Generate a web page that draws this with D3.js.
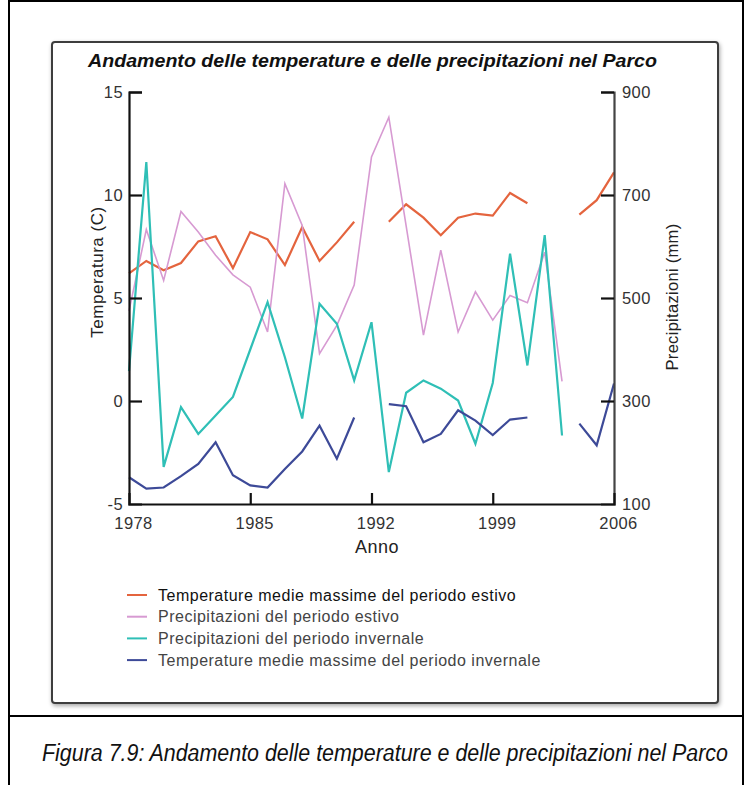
<!DOCTYPE html>
<html>
<head>
<meta charset="utf-8">
<script src="https://cdn.jsdelivr.net/npm/d3@7"></script>
<style>
  html, body { margin: 0; padding: 0; background: #fff; }
  svg { display: block; }
  text { font-family: "Liberation Sans", Arial, sans-serif; }
</style>
</head>
<body>
<svg id="chart" width="744" height="785"></svg>
<script>
const years = [1978, 1979, 1980, 1981, 1982, 1983, 1984, 1985, 1986, 1987, 1988, 1989, 1990, 1991, 1992,
  1993, 1994, 1995, 1996, 1997, 1998, 1999, 2000, 2001, 2002, 2003, 2004, 2005, 2006]

// temperature medie massime (C), asse sinistro
const tempEstivo = [6.2, 6.8, 6.35, 6.7, 7.75, 8.0, 6.45, 8.2, 7.85, 6.6, 8.45, 6.8, 7.7, 8.7, null,
  8.7, 9.55, 8.9, 8.05, 8.9, 9.1, 9.0, 10.1, 9.6, null, null, 9.05, 9.75, 11.1]
const tempInvernale = [-3.7, -4.25, -4.2, -3.65, -3.05, -2.0, -3.6, -4.1, -4.2, -3.3, -2.45, -1.2, -2.8, -0.8, null,
  -0.15, -0.25, -2.0, -1.6, -0.45, -0.95, -1.65, -0.9, -0.8, null, null, -1.1, -2.15, 0.85]

// precipitazioni (mm), asse destro
const precEstivo = [475, 633, 534, 668, 628, 583, 545, 521, 434, 722, 641, 392, 447, 525, 774,
  851, 640, 428, 593, 434, 512, 457, 505, 491, 589, 338, null, null, null]
const precInvernale = [358, 764, 172, 288, 236, 272, 308, 400, 492, 385, 266, 489, 450, 340, 453,
  162, 316, 340, 324, 301, 217, 335, 586, 369, 622, 233, null, null, null]

const xTicks = [1978, 1985, 1992, 1999, 2006]
const tempTicks = [15, 10, 5, 0, -5]
const precTicks = [900, 700, 500, 300, 100]

const series = [
  { name: 'Temperature medie massime del periodo estivo', values: tempEstivo, axis: 'temp', color: '#e4643e', width: 2.2 },
  { name: 'Precipitazioni del periodo estivo', values: precEstivo, axis: 'prec', color: '#d79ad2', width: 1.6 },
  { name: 'Precipitazioni del periodo invernale', values: precInvernale, axis: 'prec', color: '#2fbfb6', width: 2.2 },
  { name: 'Temperature medie massime del periodo invernale', values: tempInvernale, axis: 'temp', color: '#3d4a98', width: 2.2 },
]

const title = 'Andamento delle temperature e delle precipitazioni nel Parco'
const caption = 'Figura 7.9: Andamento delle temperature e delle precipitazioni nel Parco'

const svg = d3.select('#chart')

// cornice esterna e separatore didascalia
svg.append('rect')
  .attr('x', 9).attr('y', 1).attr('width', 734).attr('height', 800)
  .attr('fill', 'none').attr('stroke', '#000').attr('stroke-width', 2)
svg.append('line')
  .attr('x1', 9).attr('x2', 744).attr('y1', 716).attr('y2', 716)
  .attr('stroke', '#000').attr('stroke-width', 2)

// riquadro grigio della figura
const defs = svg.append('defs')
defs.append('filter').attr('id', 'shadow')
  .attr('x', '-5%').attr('y', '-5%').attr('width', '110%').attr('height', '110%')
  .append('feDropShadow')
    .attr('dx', 1).attr('dy', 2).attr('stdDeviation', 2)
    .attr('flood-color', '#000').attr('flood-opacity', 0.35)

svg.append('rect')
  .attr('x', 52).attr('y', 42).attr('width', 666).attr('height', 661).attr('rx', 3)
  .attr('fill', '#fff').attr('stroke', '#3c3c3c').attr('stroke-width', 2)
  .attr('filter', 'url(#shadow)')

svg.append('text')
  .attr('x', 88).attr('y', 67)
  .attr('font-size', 18).attr('font-weight', 'bold').attr('font-style', 'italic')
  .attr('fill', '#111')
  .attr('textLength', 569).attr('lengthAdjust', 'spacingAndGlyphs')
  .text(title)

const x = d3.scaleLinear().domain([1978, 2006]).range([129, 614])
const yTemp = d3.scaleLinear().domain([-5, 15]).range([504, 92])
const yPrec = d3.scaleLinear().domain([100, 900]).range([504, 92])

const plot = svg.append('g')

const lineFor = s => d3.line()
  .defined(d => d != null)
  .x((d, i) => x(years[i]))
  .y(d => (s.axis === 'temp' ? yTemp : yPrec)(d))

plot.selectAll('.serie')
  .data(series)
  .enter().append('path').attr('class', 'serie')
    .attr('d', s => lineFor(s)(s.values))
    .attr('fill', 'none')
    .attr('stroke', s => s.color)
    .attr('stroke-width', s => s.width)
    .attr('stroke-linejoin', 'miter')

// assi
const fmt = d => String(d)
const axisLeft = svg.append('g')
  .attr('transform', 'translate(129,0)')
  .call(d3.axisLeft(yTemp).tickValues(tempTicks).tickSize(-13).tickPadding(6).tickFormat(fmt))
const axisRight = svg.append('g')
  .attr('transform', 'translate(614,0)')
  .call(d3.axisRight(yPrec).tickValues(precTicks).tickSize(-13).tickPadding(8).tickFormat(fmt))
const axisBottom = svg.append('g')
  .attr('transform', 'translate(0,504)')
  .call(d3.axisBottom(x).tickValues(xTicks).tickSize(-11).tickPadding(8).tickFormat(fmt))

;[axisLeft, axisRight, axisBottom].forEach(ax => {
  ax.select('.domain').attr('stroke', '#111').attr('stroke-width', 2.2)
  ax.selectAll('.tick line').attr('stroke', '#111').attr('stroke-width', 2.2)
  ax.selectAll('.tick text').attr('font-size', 16.5).attr('fill', '#333')
    .attr('letter-spacing', 0.4)
    .attr('font-family', '"Liberation Sans", Arial, sans-serif')
  ax.attr('font-family', null).attr('font-size', null)
})
axisRight.select('.domain').attr('stroke', '#444')
axisBottom.selectAll('.tick text').attr('dx', 4).attr('dy', '1.05em')
// niente tacca dove coincide con gli assi
axisBottom.selectAll('.tick').filter(d => d === 1978 || d === 2006).select('line').remove()
axisLeft.selectAll('.tick').filter(d => d === -5).select('line').remove()
axisRight.selectAll('.tick').filter(d => d === 100).select('line').remove()

svg.append('text')
  .attr('transform', 'translate(103,272) rotate(-90)')
  .attr('text-anchor', 'middle').attr('font-size', 17).attr('letter-spacing', 0.5).attr('fill', '#222')
  .text('Temperatura (C)')
svg.append('text')
  .attr('transform', 'translate(678,297) rotate(-90)')
  .attr('text-anchor', 'middle').attr('font-size', 16.5).attr('letter-spacing', 0.3).attr('fill', '#222')
  .text('Precipitazioni (mm)')
svg.append('text')
  .attr('x', 377).attr('y', 553)
  .attr('text-anchor', 'middle').attr('font-size', 18).attr('letter-spacing', 0.5).attr('fill', '#222')
  .text('Anno')

// legenda
const legend = svg.append('g').selectAll('g')
  .data(series)
  .enter().append('g')
    .attr('transform', (d, i) => `translate(127,${595 + i * 21.7})`)
legend.append('line')
  .attr('x1', 0).attr('x2', 20)
  .attr('stroke', d => d.color).attr('stroke-width', 2)
legend.append('text')
  .attr('x', 31).attr('dy', '0.35em')
  .attr('font-size', 16).attr('letter-spacing', 0.5)
  .attr('fill', (d, i) => i === 0 ? '#111' : '#444')
  .text(d => d.name)

// didascalia: carattere stretto ottenuto scalando in orizzontale
const capG = svg.append('g')
const cap = capG.append('text')
  .attr('x', 0).attr('y', 0)
  .attr('font-family', '"Liberation Sans Narrow", "Arial Narrow", "Liberation Sans", sans-serif')
  .attr('font-style', 'italic').attr('font-size', 23).attr('fill', '#111')
  .text(caption)
const capW = cap.node().getComputedTextLength()
const capS = 686 / capW
capG.attr('transform', `translate(${385 - 343},761) scale(${capS},1)`)
</script>
</body>
</html>
